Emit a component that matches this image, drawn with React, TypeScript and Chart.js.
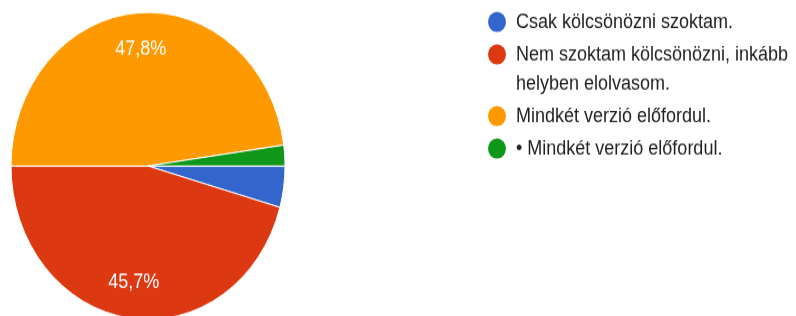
import React, { useEffect, useRef } from "react";
import { Chart, registerables } from "chart.js";

Chart.register(...registerables);

const labels: string[] = [
  "Csak kölcsönözni szoktam.",
  "Nem szoktam kölcsönözni, inkább helyben elolvasom.",
  "Mindkét verzió előfordul.",
  "• Mindkét verzió előfordul.",
];
const counts: number[] = [2, 21, 22, 1];
const colors: string[] = ["#3366cc", "#dc3912", "#ff9900", "#109618"];

const FONT = '18px "Liberation Sans", Arial, sans-serif';
const W = 796;
const H = 300;
const SCALE_Y = 316 / 282;

function wrap(ctx: CanvasRenderingContext2D, text: string, maxW: number): string[] {
  const words = text.split(" ");
  const lines: string[] = [];
  let cur = "";
  for (const w of words) {
    const t = cur ? cur + " " + w : w;
    if (cur && ctx.measureText(t).width > maxW) {
      lines.push(cur);
      cur = w;
    } else cur = t;
  }
  if (cur) lines.push(cur);
  return lines;
}

const customPlugin = {
  id: "custom",
  afterDraw(chart: any) {
    const ctx: CanvasRenderingContext2D = chart.ctx;
    const ds = chart.data.datasets[0];
    const total = (ds.data as number[]).reduce((a, b) => a + b, 0);
    const meta = chart.getDatasetMeta(0);
    ctx.save();
    ctx.font = FONT;
    ctx.textAlign = "center";
    ctx.textBaseline = "middle";
    ctx.fillStyle = "#ffffff";
    meta.data.forEach((arc: any, i: number) => {
      const pct = (ds.data[i] / total) * 100;
      if (pct < 5) return;
      const p = arc.getProps(["x", "y", "startAngle", "endAngle", "outerRadius"], true);
      const mid = (p.startAngle + p.endAngle) / 2;
      const r = p.outerRadius * 0.765;
      ctx.fillText(pct.toFixed(1).replace(".", ",") + "%", p.x + Math.cos(mid) * r, p.y + Math.sin(mid) * r);
    });
    // legend
    ctx.textAlign = "left";
    let y = 19.6;
    const lx = 497;
    const tx = 516;
    (chart.data.labels as string[]).forEach((lab: string, i: number) => {
      const lines = wrap(ctx, lab, W - tx + 4);
      ctx.fillStyle = ds.backgroundColor[i];
      ctx.beginPath();
      ctx.arc(lx, y, 9, 0, Math.PI * 2);
      ctx.fill();
      ctx.fillStyle = "#222222";
      lines.forEach((ln, j) => ctx.fillText(ln, tx, y + j * 26));
      y += lines.length * 26 + 3;
    });
    ctx.restore();
  },
};

export default function App() {
  const ref = useRef<HTMLCanvasElement>(null);
  useEffect(() => {
    if (!ref.current) return;
    const chart = new Chart(ref.current, {
      type: "pie",
      data: {
        labels,
        datasets: [
          {
            data: counts,
            backgroundColor: colors,
            borderColor: "#ffffff",
            borderWidth: 1,
          },
        ],
      },
      options: {
        responsive: false,
        animation: false,
        rotation: 90,
        layout: { padding: { left: 10.5, top: 10.6, right: W - 285.5, bottom: H - 285.6 } },
        plugins: { legend: { display: false }, tooltip: { enabled: false }, title: { display: false } },
      },
      plugins: [customPlugin],
    });
    return () => chart.destroy();
  }, []);
  return (
    <div style={{ position: "fixed", left: 0, top: 0, width: W, height: 316, overflow: "hidden", background: "#fff" }}>
      <div style={{ width: W, height: H, transform: `scale(1, ${SCALE_Y})`, transformOrigin: "0 0" }}>
        <canvas ref={ref} width={W} height={H} />
      </div>
    </div>
  );
}
